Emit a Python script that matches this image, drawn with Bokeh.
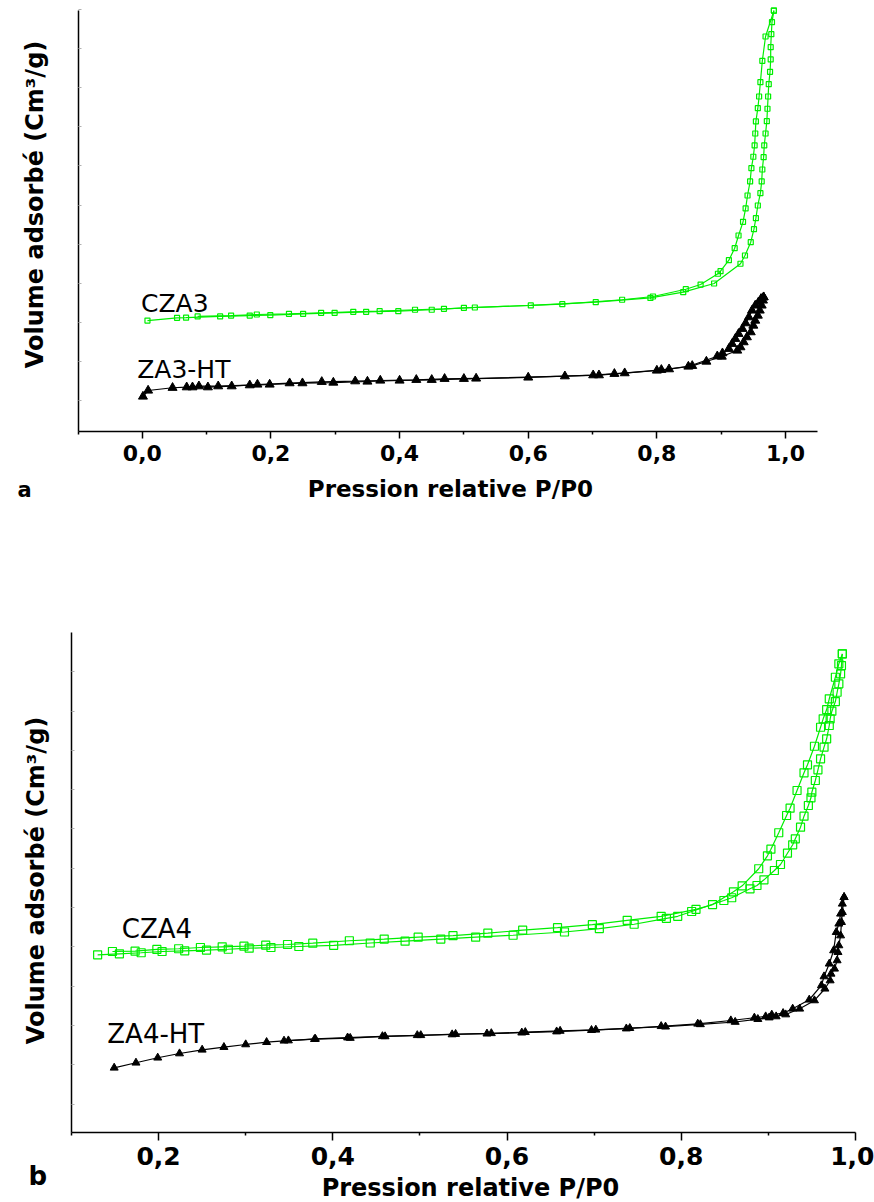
import math
from bokeh.plotting import figure
from bokeh.models import Range1d, FixedTicker, CustomJSTickFormatter, Label, LinearAxis
from bokeh.layouts import column
from bokeh.embed import file_html
from bokeh.resources import INLINE

# ---------------- data (panel a) ----------------
cza3_ads_p = [0.008, 0.054, 0.068, 0.121, 0.167, 0.199, 0.250, 0.299, 0.348, 0.398, 0.450, 0.500,
              0.604, 0.705, 0.790, 0.841, 0.889, 0.930, 0.937, 0.946, 0.951, 0.954, 0.957, 0.961,
              0.963, 0.964, 0.966, 0.967, 0.969, 0.971, 0.972, 0.973, 0.974, 0.976, 0.977, 0.977,
              0.978, 0.979, 0.982]
cza3_ads_v = [102.1, 105.6, 105.8, 107.3, 108.5, 108.9, 110.7, 112.0, 113.3, 114.1, 115.9, 118.4,
              121.4, 125.6, 131.0, 138.4, 149.5, 174.8, 185.4, 202.4, 219.1, 233.2, 249.4, 265.2,
              280.2, 295.5, 311.3, 326.3, 341.6, 357.4, 373.3, 389.0, 404.8, 420.6, 436.4, 452.1,
              468.8, 484.1, 499.0]
cza3_des_p = [0.982, 0.969, 0.964, 0.961, 0.959, 0.957, 0.954, 0.953, 0.952, 0.950, 0.947, 0.945,
              0.941, 0.938, 0.934, 0.927, 0.921, 0.912, 0.899, 0.895, 0.868, 0.845, 0.794, 0.746,
              0.653, 0.517, 0.469, 0.424, 0.369, 0.328, 0.278, 0.228, 0.178, 0.138, 0.086]
cza3_des_v = [499.0, 465.8, 434.7, 407.3, 389.0, 374.0, 357.0, 341.6, 326.3, 311.8, 297.2, 280.2,
              262.2, 245.6, 228.5, 211.0, 194.7, 179.4, 165.3, 162.0, 148.2, 142.2, 132.9, 128.7,
              123.0, 118.8, 117.1, 115.9, 114.1, 113.3, 112.0, 110.7, 109.8, 108.5, 107.3]

za3_ads_p = [0.001, 0.009, 0.047, 0.069, 0.088, 0.118, 0.167, 0.198, 0.249, 0.297, 0.350, 0.400,
             0.450, 0.500, 0.600, 0.701, 0.750, 0.800, 0.855, 0.877, 0.901, 0.925, 0.930, 0.935,
             0.940, 0.946, 0.950, 0.953, 0.957, 0.960, 0.963, 0.965, 0.966]
za3_ads_v = [4.8, 12.5, 16.0, 16.7, 18.0, 18.0, 19.3, 20.2, 21.9, 22.7, 24.0, 25.3,
             26.2, 27.5, 29.2, 32.1, 34.7, 38.1, 44.1, 49.6, 56.0, 63.7, 68.0, 74.4,
             80.8, 87.2, 95.7, 102.1, 108.5, 115.0, 121.4, 127.8, 132.0]
za3_des_p = [0.966, 0.962, 0.958, 0.953, 0.948, 0.943, 0.938, 0.933, 0.927, 0.922, 0.917, 0.912,
             0.902, 0.894, 0.849, 0.819, 0.807, 0.734, 0.710, 0.657, 0.519, 0.470, 0.426, 0.370,
             0.331, 0.279, 0.229, 0.179, 0.139, 0.102, 0.078]
za3_des_v = [132.0, 129.9, 125.6, 121.4, 115.0, 106.4, 98.7, 91.5, 85.1, 78.7, 72.3, 65.9,
             60.3, 56.4, 43.2, 39.8, 39.0, 33.9, 32.1, 30.8, 27.9, 27.5, 26.2, 25.3,
             24.4, 23.6, 21.9, 20.2, 18.0, 16.7, 16.7]

# ---------------- data (panel b) ----------------
cza4_ads_p = [0.130, 0.155, 0.180, 0.204, 0.230, 0.255, 0.280, 0.304, 0.329, 0.361, 0.401, 0.443,
              0.483, 0.524, 0.564, 0.607, 0.666, 0.706, 0.746, 0.783, 0.796, 0.812, 0.849, 0.858,
              0.879, 0.887, 0.895, 0.907, 0.914, 0.922, 0.928, 0.931, 0.937, 0.941, 0.946, 0.949,
              0.950, 0.954, 0.957, 0.960, 0.964, 0.967, 0.970, 0.971, 0.973, 0.977, 0.979, 0.981,
              0.983, 0.984, 0.985]
cza4_ads_v = [189.9, 191.2, 192.5, 194.1, 195.0, 195.8, 197.0, 198.3, 199.2, 200.5, 202.0, 204.9,
              207.3, 209.9, 212.4, 214.8, 218.9, 223.3, 228.8, 236.3, 238.9, 245.0, 259.0, 262.5,
              273.9, 278.1, 285.3, 297.2, 304.8, 319.2, 329.9, 337.5, 352.3, 366.3, 379.9, 389.7,
              396.8, 411.7, 425.3, 439.3, 454.1, 464.8, 481.7, 490.2, 499.9, 512.2, 524.0, 534.7,
              547.4, 558.0, 572.9]
cza4_des_p = [0.985, 0.981, 0.977, 0.970, 0.967, 0.963, 0.960, 0.953, 0.945, 0.941, 0.933, 0.925,
              0.921, 0.912, 0.903, 0.899, 0.889, 0.870, 0.860, 0.836, 0.817, 0.777, 0.738, 0.698,
              0.658, 0.618, 0.578, 0.538, 0.498, 0.459, 0.419, 0.377, 0.348, 0.323, 0.298, 0.273,
              0.248, 0.223, 0.198, 0.173, 0.147]
cza4_des_v = [572.9, 560.2, 543.1, 515.7, 502.0, 490.2, 479.5, 455.3, 431.7, 421.5, 399.0, 376.5,
              367.2, 345.2, 324.3, 315.9, 299.4, 277.7, 270.1, 253.8, 247.8, 238.9, 233.8, 228.3,
              224.4, 221.3, 217.4, 214.3, 212.4, 209.9, 207.8, 204.7, 203.0, 202.1, 200.9, 200.1,
              199.2, 197.6, 196.7, 194.5, 194.1]

za4_ads_p = [0.149, 0.174, 0.199, 0.224, 0.250, 0.275, 0.300, 0.324, 0.344, 0.379, 0.420, 0.460,
             0.501, 0.541, 0.582, 0.621, 0.661, 0.702, 0.741, 0.782, 0.822, 0.862, 0.888, 0.901,
             0.909, 0.920, 0.936, 0.953, 0.965, 0.971, 0.972, 0.976, 0.979, 0.980, 0.981, 0.983,
             0.984, 0.985, 0.987]
za4_ads_v = [46.1, 52.5, 58.9, 64.3, 69.0, 72.4, 75.8, 78.7, 80.5, 82.5, 84.0, 86.0,
             87.5, 89.0, 90.0, 91.4, 93.0, 94.5, 96.5, 98.4, 101.4, 104.4, 108.0, 110.0,
             111.4, 113.9, 121.2, 131.8, 146.7, 157.2, 165.7, 172.1, 182.7, 193.2, 201.8, 214.4,
             231.4, 244.1, 263.2]
za4_des_p = [0.987, 0.985, 0.983, 0.981, 0.978, 0.975, 0.970, 0.964, 0.961, 0.947, 0.928, 0.917,
             0.904, 0.897, 0.884, 0.857, 0.819, 0.777, 0.737, 0.697, 0.657, 0.617, 0.577, 0.537,
             0.497, 0.457, 0.417, 0.380, 0.349]
za4_des_v = [263.2, 254.8, 242.1, 229.4, 218.7, 195.4, 178.5, 162.3, 150.9, 132.7, 121.2, 115.6,
             113.6, 111.4, 109.8, 106.3, 102.1, 99.0, 96.0, 94.0, 92.2, 90.8, 89.5, 88.5,
             87.5, 86.2, 84.5, 82.8, 80.8]

x_ticks_a = [0.0, 0.2, 0.4, 0.6, 0.8, 1.0]
x_minor_a = [-0.1, 0.1, 0.3, 0.5, 0.7, 0.9]
x_ticks_b = [0.2, 0.4, 0.6, 0.8, 1.0]
x_minor_b = [0.1, 0.3, 0.5, 0.7, 0.9]
y_ticks = [0, 50, 100, 150, 200, 250, 300, 350, 400, 450, 500, 550]

GREEN = "#00ee00"
FONT = "DejaVu Sans"
y_title = "Volume adsorbé (Cm³/g)"
x_title = "Pression relative P/P0"


def make_panel(height, xr, yr, x_lo, x_hi, y_lo, y_hi, xt, xm, tick_out, tick_std, tick_size):
    p = figure(width=874, height=height, output_backend="svg", toolbar_location=None,
               x_range=Range1d(*xr), y_range=Range1d(*yr),
               x_axis_location=None, y_axis_location=None, min_border=0)
    p.grid.visible = False
    p.outline_line_color = None
    p.background_fill_color = "white"
    p.border_fill_color = "white"
    xa = LinearAxis(fixed_location=y_lo, bounds=(x_lo, x_hi))
    xa.ticker = FixedTicker(ticks=xt, minor_ticks=xm)
    xa.formatter = CustomJSTickFormatter(code="return tick.toFixed(1).replace('.', ',');")
    xa.axis_line_width = 1.5
    xa.major_tick_line_width = 1.5
    xa.minor_tick_line_width = 1.5
    xa.major_tick_out = tick_out
    xa.major_tick_in = 0
    xa.minor_tick_out = 3
    xa.minor_tick_in = 0
    xa.major_label_standoff = tick_std
    xa.major_label_text_font = FONT
    xa.major_label_text_font_style = "bold"
    xa.major_label_text_font_size = tick_size
    xa.major_label_text_color = "black"
    p.add_layout(xa, "below")
    ya = LinearAxis(fixed_location=x_lo, bounds=(y_lo, y_hi))
    ya.ticker = FixedTicker(ticks=y_ticks, minor_ticks=[])
    ya.formatter = CustomJSTickFormatter(code="return '';")
    ya.axis_line_width = 1.5
    ya.major_tick_in = 3
    ya.major_tick_out = 0
    ya.major_tick_line_color = "#b0b0b0"
    ya.minor_tick_line_color = None
    ya.major_label_standoff = 0
    p.add_layout(ya, "left")
    return p


def curves(p, sq_size, tri_size):
    p.line(cza_ads_p, cza_ads_v, line_color=GREEN, line_width=1.2)
    p.line(cza_des_p, cza_des_v, line_color=GREEN, line_width=1.2)
    p.scatter(cza_ads_p, cza_ads_v, marker="square", size=sq_size, fill_color=None,
              line_color=GREEN, line_width=1.2)
    p.scatter(cza_des_p, cza_des_v, marker="square", size=sq_size, fill_color=None,
              line_color=GREEN, line_width=1.2)
    p.line(za_ads_p, za_ads_v, line_color="black", line_width=1.2)
    p.line(za_des_p, za_des_v, line_color="black", line_width=1.2)
    p.scatter(za_ads_p, za_ads_v, marker="triangle", size=tri_size, fill_color="black",
              line_color="black")
    p.scatter(za_des_p, za_des_v, marker="triangle", size=tri_size, fill_color="black",
              line_color="black")


def text(p, x, y, s, size, bold=False, align="left", angle=0.0):
    p.add_layout(Label(x=x, y=y, text=s, angle=angle, text_font=FONT, text_font_size=size,
                       text_font_style="bold" if bold else "normal", text_align=align,
                       text_baseline="middle", text_color="black"))


# ---------------- panel a ----------------
p1 = make_panel(590, (-0.2205, 1.1384), (-243.6, 511.9), -0.1, 1.05, -40, 499,
                x_ticks_a, x_minor_a, 7, 6, "22px")
cza_ads_p, cza_ads_v, cza_des_p, cza_des_v = cza3_ads_p, cza3_ads_v, cza3_des_p, cza3_des_v
za_ads_p, za_ads_v, za_des_p, za_des_v = za3_ads_p, za3_ads_v, za3_des_p, za3_des_v
curves(p1, 5, 9)
text(p1, -0.002, 123.9, "CZA3", "25px")
text(p1, -0.008, 39.8, "ZA3-HT", "25px")
text(p1, -0.1676, 250.7, y_title, "24px", bold=True, align="center", angle=math.pi / 2)
text(p1, 0.479, -114.1, x_title, "23px", bold=True, align="center")
text(p1, -0.194, -115.0, "a", "21px", bold=True)

# ---------------- panel b ----------------
p2 = make_panel(612, (0.01848, 1.02193), (-125.3, 653.5), 0.1, 1.0, -36.2, 600,
                x_ticks_b, x_minor_b, 8, 7, "25px")
cza_ads_p, cza_ads_v, cza_des_p, cza_des_v = cza4_ads_p, cza4_ads_v, cza4_des_p, cza4_des_v
za_ads_p, za_ads_v, za_des_p, za_des_v = za4_ads_p, za4_ads_v, za4_des_p, za4_des_v
curves(p2, 8, 8)
text(p2, 0.1577, 223.0, "CZA4", "26px")
text(p2, 0.1411, 89.4, "ZA4-HT", "26px")
text(p2, 0.0587, 284.5, y_title, "24px", bold=True, align="center", angle=math.pi / 2)
text(p2, 0.558, -106.7, x_title, "24px", bold=True, align="center")
text(p2, 0.0505, -91.8, "b", "26px", bold=True)

layout = column(p1, p2, spacing=0)
open("out.html", "w").write(file_html(layout, INLINE))
